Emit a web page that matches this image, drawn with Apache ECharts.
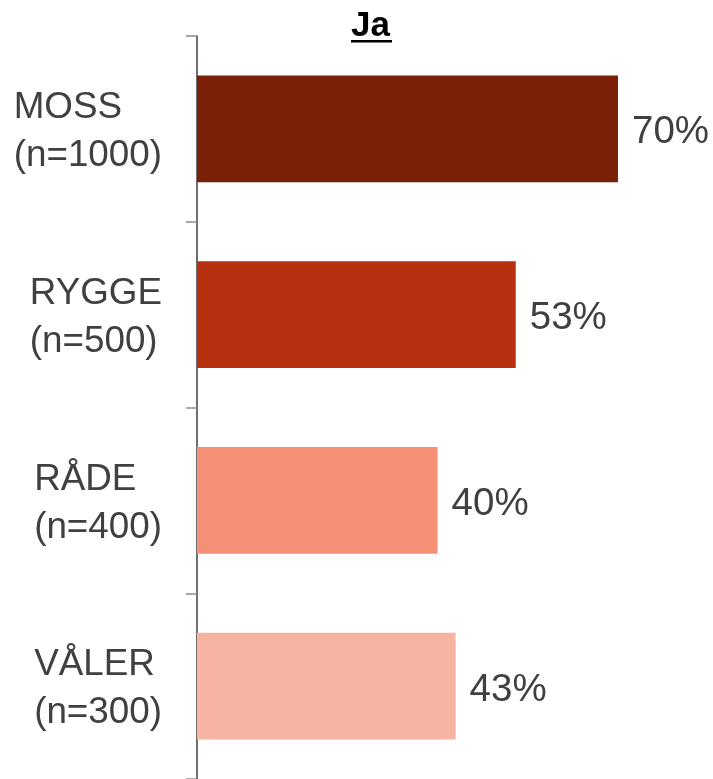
<!DOCTYPE html>
<html>
<head>
<meta charset="utf-8">
<script src="https://cdn.jsdelivr.net/npm/echarts@6/dist/echarts.min.js"></script>
<style>
  html, body { margin: 0; padding: 0; background: #fff; }
  #chart { width: 713px; height: 779px; }
</style>
</head>
<body>
<div id="chart"></div>
<script>
const categories = ["MOSS\n(n=1000)", "RYGGE\n(n=500)", "RÅDE\n(n=400)", "VÅLER\n(n=300)"]
const values = [70, 53, 40, 43]
const barColors = ["#7a1f08", "#b7300f", "#f59077", "#f8b4a2"]
const titleText = "Ja"

const chart = echarts.init(document.getElementById("chart"))
const font = "'Liberation Sans', Arial, sans-serif"

const option = {
  animation: false,
  grid: { left: 197, right: 0, top: 36, bottom: 0 },
  graphic: [
    {
      type: "text",
      left: 351,
      top: 9,
      style: { text: titleText, font: "bold 35px " + font, fill: "#000" }
    },
    {
      type: "rect",
      left: 351,
      top: 40,
      shape: { width: 41, height: 2.5 },
      style: { fill: "#000" }
    }
  ],
  xAxis: {
    type: "value",
    min: 0,
    max: 85.8,
    show: false
  },
  yAxis: {
    type: "category",
    inverse: true,
    data: categories,
    axisLine: { show: true, lineStyle: { color: "#404040", width: 1.5 } },
    axisTick: { show: true, length: 11, lineStyle: { color: "#8c8c8c", width: 1.5 } },
    axisLabel: {
      margin: 35,
      formatter: function (v) {
        return v.split("\n").map(function (s) { return "{l|" + s + "}" }).join("\n")
      },
      rich: {
        l: { align: "left", fontSize: 36.8, lineHeight: 48, color: "#404040", fontFamily: font, padding: [6, 0, 0, 0] }
      }
    }
  },
  series: [
    {
      type: "bar",
      barCategoryGap: "42.5%",
      data: values.map(function (v, i) {
        return { value: v, itemStyle: { color: barColors[i] } }
      }),
      label: {
        show: true,
        position: "right",
        distance: 14,
        offset: [0, 4],
        formatter: "{c}%",
        fontSize: 38.5,
        color: "#404040",
        fontFamily: font
      }
    }
  ]
}
chart.setOption(option)
</script>
</body>
</html>
